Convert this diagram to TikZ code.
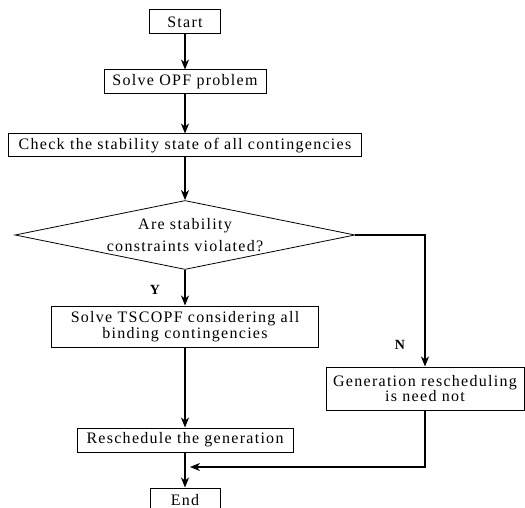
\documentclass[tikz,border=0pt]{standalone}
\usepackage{fontspec}
\usepackage{tikz}
\usetikzlibrary{shapes.geometric,arrows.meta}
\newfontfamily\flowfont{Liberation Serif}[LetterSpace=8]

\tikzset{
	blocco/.style={draw, line width=1pt, inner sep=0pt, align=center,
		font=\flowfont\fontsize{16}{15.5}\selectfont},
	scelta/.style={diamond, draw, line width=0.8pt, inner sep=0pt, aspect=4.9,
		align=center, font=\flowfont\fontsize{16}{22}\selectfont},
	etichetta/.style={inner sep=0pt, font=\flowfont\bfseries\fontsize{14}{14}\selectfont},
}

\begin{document}
\begin{tikzpicture}[x=1pt, y=-1pt, >={Stealth[length=10pt,width=8pt,inset=3pt]}, line width=1.1pt]
		\useasboundingbox (0,0) rectangle (525,508);
		
		% Definizione dei nodi
		\node[blocco, minimum width=71pt, minimum height=24pt] (Start) at (185,22) {Start};
		\node[blocco, minimum width=162pt, minimum height=24pt, below of=Start, node distance=60pt] (SolveOPF) {Solve OPF problem};
		\node[blocco, minimum width=353pt, minimum height=23pt, below of=SolveOPF, node distance=63.5pt] (Check) {Check the stability state of all contingencies};
		\node[scelta, minimum width=340pt, minimum height=69pt, below of=Check, node distance=89.5pt] (Violated) {Are stability\\constraints violated?};
		\node[blocco, minimum width=267pt, minimum height=41pt, below of=Violated, node distance=91.5pt] (SolveTSCOPF) {Solve TSCOPF considering all\\binding contingencies};
		\node[blocco, minimum width=216pt, minimum height=24pt, below of=SolveTSCOPF, node distance=113.5pt] (Reschedule) {Reschedule the generation};
		\node[blocco, minimum width=70pt, minimum height=24pt, below of=Reschedule, node distance=60pt] (End) {End};
		\node[blocco, minimum width=198pt, minimum height=43pt] (NoNeed) at (425,388.5) {Generation rescheduling\\is need not};
		
		% Etichette
		\node[etichetta] (Y) at (155,290) {Y};
		\node[etichetta] (N) at (400,345) {N};
		\coordinate (Join) at (190,467);
		
		% Collegamenti
		\draw[->] (Start) -- (SolveOPF);
		\draw[->] (SolveOPF) -- (Check);
		\draw[->] (Check) -- (Violated);
		\draw[->] (Violated) -- (SolveTSCOPF);
		\draw[->] (Violated.east) -| (NoNeed.north);
		\draw[->] (SolveTSCOPF) -- (Reschedule);
		\draw[->] (Reschedule) -- (End);
		\draw[->] (NoNeed.south) |- (Join);
	\end{tikzpicture}
\end{document}
